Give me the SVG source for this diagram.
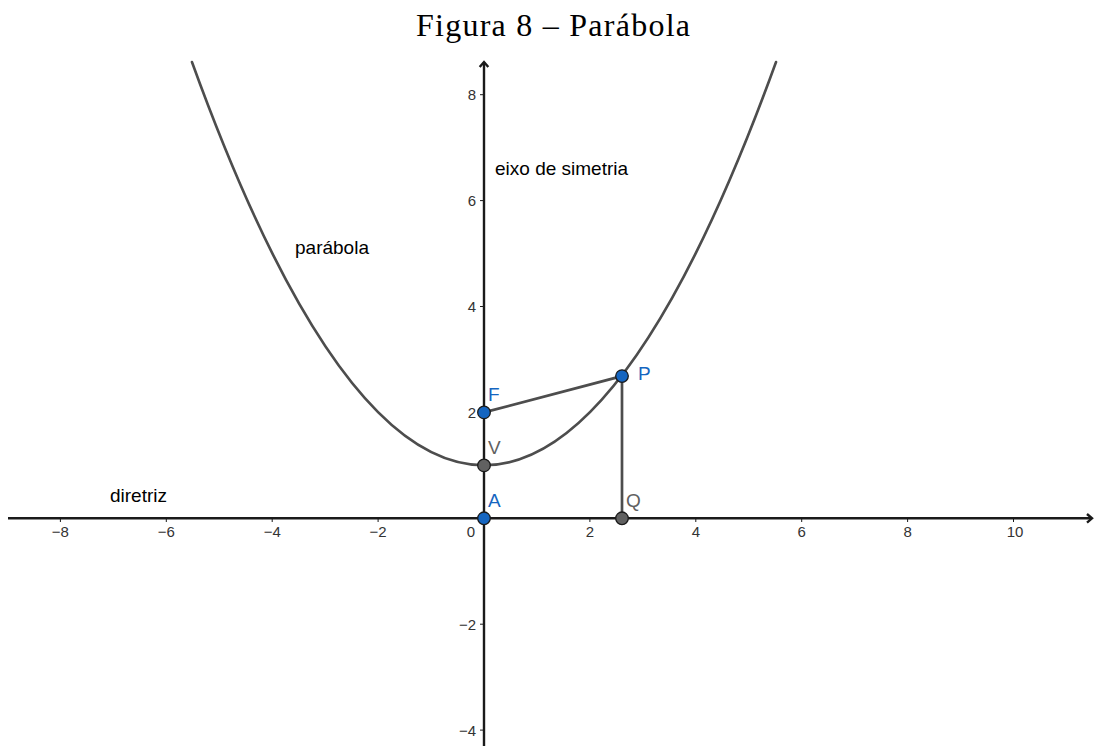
<svg xmlns="http://www.w3.org/2000/svg" width="1094" height="746" viewBox="0 0 1094 746">
<style>
.tick{font-family:"Liberation Sans",Arial,sans-serif;font-size:15px;fill:#333}
.lbl{font-family:"Liberation Sans",Arial,sans-serif;font-size:19px;fill:#000}
.pl{font-family:"Liberation Sans",Arial,sans-serif;font-size:19px}
.blue{fill:#1565c0}
.gray{fill:#616161}
.ptb{fill:#1565c0;stroke:#1a1a1a;stroke-width:1.3}
.ptg{fill:#616161;stroke:#1a1a1a;stroke-width:1.3}
.seg{stroke:#4d4d4d;stroke-width:2.7;fill:none;stroke-linecap:round}
.ax{stroke:#1a1a1a;stroke-width:2.4;fill:none}
</style>
<rect width="1094" height="746" fill="#fff"/>
<text x="553" y="36" text-anchor="middle" font-family="'Liberation Serif','DejaVu Serif',serif" font-size="32" textLength="274" lengthAdjust="spacing" fill="#000">Figura 8 – Parábola</text>
<g id="axes">
<path class="ax" d="M8,518.3 H1092 M484,746 V62"/>
<path class="ax" d="M1087,514 L1092,518.3 L1087,522.6 M479.7,67 L484,62 L488.3,67" stroke-width="1.5"/>
<path stroke="#1a1a1a" stroke-width="1" d="M60.4,518 v4 M166.3,518 v4 M272.2,518 v4 M378.1,518 v4 M589.9,518 v4 M695.8,518 v4 M801.7,518 v4 M907.6,518 v4 M1013.5,518 v4 M480,94.7 h4 M480,200.6 h4 M480,306.5 h4 M480,412.4 h4 M480,624.2 h4 M480,730.1 h4"/>
<g class="tick" text-anchor="middle">
<text x="60.4" y="537">−8</text><text x="166.3" y="537">−6</text><text x="272.2" y="537">−4</text><text x="378.1" y="537">−2</text>
<text x="589.9" y="537">2</text><text x="695.8" y="537">4</text><text x="801.7" y="537">6</text><text x="907.6" y="537">8</text><text x="1015" y="537">10</text>
</g>
<g class="tick" text-anchor="end">
<text x="475" y="537">0</text>
<text x="476" y="100">8</text><text x="476" y="206">6</text><text x="476" y="312">4</text><text x="476" y="418">2</text><text x="476" y="629.5">−2</text><text x="476" y="735.5">−4</text>
</g>
</g>
<g id="connectors">
<path id="parabola" class="seg" d="M192,62.1 Q484,868.4 776,62.1"/>
<path class="seg" d="M484,412.4 L622,376.1 L622,518.3"/>
</g>
<g id="texts">
<text class="lbl" x="495" y="175">eixo de simetria</text>
<text class="lbl" x="295" y="254">parábola</text>
<text class="lbl" x="110" y="502">diretriz</text>
</g>
<g id="node-F"><circle class="ptb" cx="484" cy="412.4" r="6.3"/><text class="pl blue" x="488" y="401">F</text></g>
<g id="node-V"><circle class="ptg" cx="484" cy="465.4" r="6.3"/><text class="pl gray" x="488" y="454">V</text></g>
<g id="node-A"><circle class="ptb" cx="484" cy="518.3" r="6.3"/><text class="pl blue" x="488" y="507">A</text></g>
<g id="node-P"><circle class="ptb" cx="622" cy="376.1" r="6.3"/><text class="pl blue" x="638" y="380">P</text></g>
<g id="node-Q"><circle class="ptg" cx="622" cy="518.3" r="6.3"/><text class="pl gray" x="626" y="507">Q</text></g>
</svg>
